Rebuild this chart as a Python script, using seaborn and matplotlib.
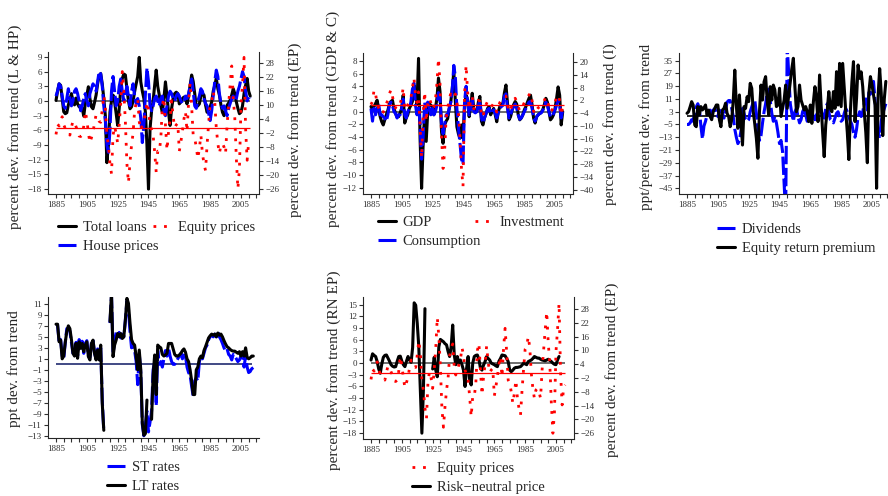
import numpy as np
import pandas as pd
import matplotlib
matplotlib.use("Agg")
import matplotlib.pyplot as plt
import seaborn as sns
from matplotlib.lines import Line2D

nan = float("nan")
START = 1885  # every series below is annual, starting in 1885

# ---- top-left panel: credit, house and equity prices -------------------
total_loans = [
    0.1, 2.0, 3.5, 3.2, 0.5,
    -2.2, -2.6, -2.4, -0.8, 0.2, 1.5, 0.0, -0.8, 0.6, -0.6,
    -1.2, -1.0, -1.5, -3.1, -0.5, 1.2, 2.9, 0.5, -1.2, -1.6,
    -0.3, 1.2, 3.5, 5.2, 5.6, 3.5, 0.5, -3.0, -12.6, -9.0,
    -2.3, 0.0, 1.2, -0.2, -2.5, -5.0, -1.5, 2.5, 4.6, 5.5,
    5.3, 2.5, 0.0, -1.6, -1.2, 0.0, 1.9, 3.5, 5.0, 8.9,
    3.9, 2.0, 0.5, -2.3, -9.0, -18.0, -5.7, -2.0, 0.0, 3.2,
    6.3, 3.0, 1.2, -1.0, -2.3, 0.5, 3.9, 1.0, -2.3, -5.0,
    -1.5, 0.5, 1.5, 1.8, 1.5, -0.6, -0.2, 0.5, 0.8, 0.5,
    -0.6, 1.0, 3.2, 5.3, 4.0, 1.5, -1.2, -1.0, -0.6, 1.0,
    1.5, 1.2, -0.8, -2.3, -1.8, -1.2, -0.2, 2.0, 3.2, 4.6,
    2.5, 1.2, -0.8, -2.3, -3.0, -2.0, -0.9, -0.4, 0.2, 1.2,
    2.5, 1.5, -0.2, -1.5, -2.6, -2.3, -1.0, 1.5, 3.2, 4.6,
    2.0, 1.0]

house_prices = [
    1.0, 2.0, 3.5, 3.0, 1.0,
    -1.0, -1.5, 0.5, 2.5, 0.5, -1.0, 0.0, 2.0, 2.5, 1.5,
    0.0, -2.0, -1.0, 0.5, 1.5, 0.0, -1.0, 1.5, 2.5, 3.5,
    3.0, 2.0, 4.0, 6.0, 5.5, 3.0, -1.0, -4.0, -9.0, -10.5,
    -6.0, 2.0, 5.0, 2.0, -1.0, 0.0, 3.0, 4.5, 2.0, 0.0,
    1.5, 3.0, 1.0, -1.0, 2.0, 3.5, 1.0, -0.5, 0.5, -1.0,
    -3.5, -8.5, -5.0, 1.5, 6.7, 4.0, -1.0, -2.0, -1.0, 0.5,
    1.0, 0.0, -1.0, 0.5, 1.0, -2.0, -3.0, -1.0, 1.0, 2.0,
    1.5, 0.5, 0.0, 1.0, 1.5, 1.0, 0.0, -0.5, 0.0, 1.0,
    0.5, 1.5, 3.0, 4.5, 2.0, -1.0, -1.5, 0.0, 1.0, 2.5,
    2.0, 0.5, -0.5, -1.0, -2.5, -4.0, -2.0, 1.0, 4.0, 6.3,
    5.0, 1.5, -0.5, -1.5, -1.0, -2.0, -3.0, -1.5, -0.5, 0.5,
    1.0, 0.0, 0.5, 2.0, 3.0, 4.5, 6.0, 5.0, 2.0, 0.0,
    1.0, 0.5]

equity_prices = [
    -2.6, 1.8, 1.0, 3.5, 5.0,
    1.5, 0.0, -1.4, -2.5, -2.9, 0.5, 3.2, 2.5, 0.7, -1.0,
    -3.3, -3.5, -2.9, 1.0, 7.3, 3.7, -2.0, -6.2, -4.0, -1.7,
    2.5, 5.8, 4.5, 3.0, 2.6, 8.0, 14.2, 9.0, -2.9, -7.2,
    -15.2, -19.5, -3.0, 0.8, -2.1, -6.5, 1.6, 10.9, 24.4, 16.0,
    2.9, -15.2, -23.4, -14.5, -7.2, -2.1, 7.6, 10.9, 12.8, 2.9,
    -0.7, 1.5, 3.7, 5.8, 11.3, 8.0, 1.5, -0.5, -2.9, -10.1,
    -18.8, -9.8, -10.1, -4.3, 9.9, 13.1, 1.5, -9.4, -1.6, 4.0,
    11.9, 5.0, 0.3, 1.5, 2.2, -9.8, -5.8, -1.4, 4.0, 7.3,
    -1.4, 10.9, 19.6, 9.4, -2.9, -4.3, -8.0, -13.0, -8.7, -2.9,
    -10.8, -15.2, -18.1, -7.2, 2.0, 10.5, 11.6, 16.0, 11.3, 0.0,
    -6.5, -10.8, -7.2, -6.5, -8.0, -10.8, 1.5, 10.2, 18.9, 26.8,
    13.1, 4.4, -13.0, -26.0, -17.4, 9.4, 18.9, 30.5, 0.0, -13.7,
    -5.8, -5.0]

# ---- top-middle panel: output, consumption, investment -----------------
gdp = [
    0.8, 0.3, 0.8, 1.3, 1.8,
    0.5, -0.8, -1.6, -2.1, -1.3, -0.5, 0.2, 1.2, 1.6, 1.8,
    0.5, -0.3, -0.8, -0.8, -0.2, 0.5, 2.6, -1.8, -1.0, -0.5,
    0.5, 1.0, 1.6, 4.2, 2.9, 1.1, 8.4, -4.2, -12.1, -5.3,
    0.0, -4.7, 0.0, 1.3, 1.0, 0.8, -0.5, 0.5, 2.1, 5.3,
    3.2, -3.2, -5.0, -2.1, -1.5, -1.1, 0.5, 1.5, 3.7, 6.3,
    1.6, -2.4, -3.5, -4.2, -2.1, -4.2, 1.0, 2.6, 1.8, -0.8,
    1.0, 2.9, 0.5, 0.0, 0.0, 1.5, 2.4, -1.5, -2.1, -1.0,
    -0.3, 0.5, 0.8, -0.5, 0.0, 0.5, -0.5, -1.6, 0.0, 0.8,
    1.1, 1.3, 3.0, 4.2, 1.3, -1.3, -0.8, 0.2, 1.1, 1.6,
    1.2, -0.5, -1.3, -1.0, -0.5, 0.3, 0.8, 1.5, 2.1, 2.6,
    1.1, -1.0, -1.8, -0.8, -0.5, -0.3, -0.1, 0.3, 1.1, 2.1,
    1.5, 0.0, -1.3, -1.0, -0.5, 0.5, 2.1, 3.9, 2.6, -2.1,
    0.0]

consumption = [
    0.5, -1.5, 0.5, -0.5, 0.5,
    1.2, -0.5, -0.5, -0.8, -1.0, -1.5, -0.5, 1.0, 1.5, 1.0,
    0.0, -0.3, -1.0, -0.5, -0.5, 0.5, 2.0, -0.5, -1.0, 0.0,
    0.5, 1.5, 3.5, 4.5, 1.0, -0.5, 1.0, -2.0, -7.5, -4.0,
    1.5, -0.5, 1.5, 0.5, -0.5, 0.5, -0.5, 0.0, 1.0, 3.0,
    2.0, -2.0, -3.5, -2.0, -0.5, -0.5, 0.5, 1.5, 3.5, 7.3,
    5.5, 0.5, -2.5, -5.0, -7.5, -8.3, 1.5, 4.0, 1.5, -0.5,
    0.5, 2.0, 0.0, -0.2, 0.0, 1.0, 1.8, -1.0, -1.8, -1.0,
    -0.3, 0.3, 0.5, -0.3, -0.1, 0.3, -0.3, -1.0, -0.2, 0.5,
    0.8, 1.0, 2.5, 2.8, 0.5, -1.0, -0.5, 0.3, 0.8, 1.2,
    0.5, -0.5, -1.2, -1.0, -0.5, 0.0, 0.5, 1.0, 1.5, 1.6,
    0.5, -0.8, -1.5, -0.8, -0.5, -0.3, -0.2, 0.2, 0.8, 1.5,
    1.0, 0.0, -0.8, -0.8, -0.3, 0.3, 1.0, 1.8, 1.0, -1.0,
    0.3]

investment = [
    0.0, 1.5, 6.9, 5.0, 0.5,
    -1.5, -3.0, -4.5, -3.5, -2.0, 0.5, 2.0, 5.0, 7.0, 4.0,
    0.0, -1.5, -2.0, -1.5, 0.5, 3.0, 8.0, -2.0, -2.5, 0.0,
    1.0, 3.0, 8.0, 12.6, 5.0, 1.0, 6.0, -10.0, -25.0, -5.0,
    6.0, -8.0, 0.5, 3.0, 1.0, -2.0, -1.0, 2.0, 10.0, 21.7,
    10.0, -15.0, -30.0, -22.0, -6.0, -2.0, 3.0, 5.0, 4.0, 3.0,
    5.0, 1.0, -3.0, -15.0, -30.0, -38.5, 5.0, 18.6, 6.0, -2.0,
    2.0, 4.0, -2.0, -1.5, 0.0, 2.0, 1.5, -4.0, -6.0, -2.0,
    0.0, 1.5, 0.5, -1.0, -0.5, 0.5, -1.0, -3.5, -1.0, 1.0,
    2.0, 2.5, 4.0, 4.0, 0.0, -3.5, -2.5, 0.0, 2.0, 3.0,
    1.5, -1.0, -3.0, -2.0, -0.5, 1.0, 2.0, 3.5, 4.5, 5.5,
    2.0, -3.0, -4.5, -2.5, -1.5, -1.0, -0.5, 0.5, 2.0, 3.5,
    2.0, -1.0, -3.5, -2.5, -1.5, 1.0, 4.0, 4.5, 2.0, -5.0,
    -1.0]

# ---- top-right panel: dividends and equity return premium --------------
dividends = [
    -5, -5, -4, -2, -3,
    2, 6, 8, 5, -6, -14, -6, -3, 1, 3,
    4, 2, 4, 5, 3, 0, 4, 3, 2, -1,
    4, 9, 10, 10, 5, 0, -8, -13, -17, -15,
    -9, 5, 2, -2, -3, -2, 3, 6, 9, 10,
    2, -8, -15, -12, -4, 3, 8, 15, 17, 10,
    2, -3, 0, -4, -10, -17, -15, -22, -42, -62,
    45, 27, 8, 2, -3, 3, 5, 0, -4, -2,
    3, 5, 1, -3, 0, 2, 3, 0, -2, 1,
    3, 2, 4, 0, -1, 5, 8, 3, -2, -3,
    -4, -1, 2, 3, 0, -3, -2, 2, 5, 3,
    0, -3, -5, -10, -13, -8, 0, 3, 0, 3,
    8, 11, 4, 15, 14, 18, 22, 10, -5, -10,
    -12.6, -3, 2, 5, 8]

equity_premium = [
    2.0, 3.0, 6.0, 9.3, 7.2,
    -5.3, -6.4, 6.2, 1.0, 6.2, 4.1, 5.5, 7.2, 1.0, 4.0,
    0.0, -2.0, 3.0, 5.0, 7.2, 7.2, -2.0, -6.4, 4.1, 5.1,
    8.3, 2.0, 0.0, -6.4, -2.0, 10.0, 29.1, 7.2, -7.4, 13.5,
    -3.0, -17.9, 6.2, 5.1, 12.4, 9.3, 20.8, 17.7, 3.0, -5.0,
    -13.7, -26.2, 3.0, 19.7, 10.3, 21.8, 25.0, 10.3, 0.9, 18.7,
    10.3, 19.7, 16.6, 6.2, 7.2, 17.7, 0.0, 5.1, 10.3, 19.7,
    5.1, 13.5, 21.8, 30.0, 36.5, 18.7, 3.0, 6.2, 19.7, 10.3,
    7.2, 4.1, 6.2, 3.0, -3.2, 7.2, -4.3, 9.3, 18.7, 11.4,
    -3.2, 26.0, 7.2, -10.0, -25.2, -5.3, 4.1, 15.6, 5.1, 3.0,
    15.6, 5.1, 28.1, 7.2, 33.3, 6.2, 33.3, 17.7, 3.0, -10.0,
    -27.0, 3.0, 21.8, 34.4, -3.2, 11.4, 32.3, 23.9, 28.0, 18.7,
    3.0, -10.0, -29.0, 15.0, 25.0, 20.0, 13.5, 7.2, -45.0, 13.5,
    30.0, 15.0, -12.0, 11.0, 22.0]

# ---- bottom-left panel: interest rates ---------------------------------
st_rates = [
    7.0, 7.2, 4.0, 4.5, 1.5,
    1.0, 4.0, 6.5, 6.5, 6.0, 4.0, 2.0, 2.0, 4.0, 1.5,
    4.5, 3.0, 4.2, 2.0, 3.8, 4.3, 1.5, 1.2, 4.0, 4.5,
    2.0, 1.0, 2.8, 1.2, 3.0, -6.5, -12.2, nan, nan, nan,
    7.5, 12.5, 2.0, 4.0, 5.8, 5.2, 5.8, 4.8, 5.5, 5.0,
    8.0, 11.5, 10.0, 6.0, 3.0, 3.5, 2.5, 0.5, -3.7, 2.0,
    -1.5, -11.0, -13.0, -11.0, -8.5, -12.3, -10.5, -8.5, -1.0, 0.5,
    -7.5, 2.5, 0.0, 0.5, -0.5, 1.0, 2.5, 1.5, 3.0, 1.5,
    0.5, 0.0, 0.0, 0.5, 1.0, 1.5, 2.0, 1.0, 2.0, 1.5,
    -0.5, -1.5, -2.0, -4.0, -5.8, -3.0, -2.5, -3.0, 0.5, 1.5,
    1.0, 2.0, 3.0, 3.5, 4.5, 5.0, 5.3, 5.0, 5.5, 5.0,
    6.0, 5.0, 4.5, 3.8, 3.0, 2.5, 2.8, 1.8, 1.5, 0.8,
    1.8, 1.5, 1.0, 0.5, 0.8, 1.5, 1.8, -0.5, 1.5, -0.5,
    -1.5, -1.3, -0.8, -0.6]

lt_rates = [
    7.3, 7.3, 4.1, 4.4, 1.0,
    1.5, 4.0, 6.0, 7.0, 6.5, 4.5, 2.0, 1.5, 3.8, 1.1,
    4.1, 2.9, 3.8, 2.3, 3.5, 4.1, 1.4, 0.8, 3.8, 4.4,
    2.0, 0.8, 2.6, 0.8, 3.5, -7.1, -12.0, nan, nan, nan,
    7.8, 13.0, 1.4, 3.5, 4.4, 5.6, 5.0, 5.6, 4.7, 5.0,
    8.1, 12.0, 11.1, 7.5, 4.5, 3.8, 3.5, 1.4, -1.0, 2.6,
    -1.0, -10.7, -12.9, -12.6, -6.5, nan, nan, -10.0, -2.0, 1.7,
    -5.5, 3.5, 3.2, 3.0, 1.8, 1.5, 1.7, 2.0, 3.8, 3.8,
    3.8, 2.8, 1.8, 1.5, 1.5, 1.7, 2.0, 2.5, 2.8, 2.2,
    1.0, 0.5, -1.0, -3.0, -5.5, -5.5, -1.0, -0.5, 1.0, 1.5,
    1.2, 2.5, 3.2, 4.0, 4.8, 5.2, 5.5, 5.3, 5.5, 5.0,
    5.7, 5.3, 5.5, 5.0, 4.3, 3.7, 3.2, 3.0, 2.7, 2.5,
    2.4, 2.4, 2.2, 2.0, 2.3, 1.5, 2.3, 1.5, 3.0, 1.3,
    1.0, 1.2, 1.5, 1.5]

# ---- bottom-middle panel: risk-neutral equity price --------------------
risk_neutral = [
    0.8, 2.4, 2.0, 1.7, 0.4,
    -1.5, -2.6, -0.2, 1.5, 2.0, 2.1, 1.3, 0.5, -0.4, -0.8,
    -1.0, -0.9, 0.5, 1.7, 1.8, 0.5, -0.4, -0.9, 0.5, 1.7,
    0.8, 0.2, 4.0, 15.5, 14.9, 10.2, 4.2, -6.9, -18.0, -6.9,
    14.0, nan, nan, nan, nan, -1.5, 1.5, -1.8, -3.5, 4.2,
    6.1, 5.8, 5.5, 5.0, 4.7, 3.0, 1.7, 4.2, 9.8, 2.1,
    -0.4, 1.7, 0.0, 0.8, -0.4, -1.8, -6.0, -1.4, 1.7, -4.3,
    -5.6, 0.0, 1.7, 2.0, 2.1, 1.0, -1.3, -1.8, -0.5, 0.4,
    1.7, 1.2, 0.8, 0.0, -0.2, -0.4, -0.7, -0.9, 0.5, 1.2,
    2.1, 2.0, 1.9, 1.2, 0.4, -1.8, -2.2, -1.8, -1.3, -1.1,
    -1.1, -1.0, -0.9, -0.5, 0.0, -0.2, -0.4, 0.4, 0.6, 0.8,
    1.2, 1.7, 1.5, 1.3, 1.3, 1.0, 0.8, 0.7, 0.6, 0.8,
    1.0, 0.7, 0.4, 0.0, -0.3, -0.4, 0.8, 1.7]

# ---- axis ticks -------------------------------------------------------
X_TICKS = list(range(1885, 2016, 5))
X_LABELS = [str(y) if (y - 1885) % 20 == 0 else "" for y in X_TICKS]
XLIM = (1879.8, 2016.7)
P1_LEFT = [-18, -15, -12, -9, -6, -3, 0, 3, 6, 9]
P1_RIGHT = [-26, -20, -14, -8, -2, 4, 10, 16, 22, 28]
P2_LEFT = [-12, -10, -8, -6, -4, -2, 0, 2, 4, 6, 8]
P2_RIGHT = [-40, -34, -28, -22, -16, -10, -4, 2, 8, 14, 20]
P3_TICKS = [-45, -37, -29, -21, -13, -5, 3, 11, 19, 27, 35]
P4_TICKS = [-13, -11, -9, -7, -5, -3, -1, 1, 3, 5, 7, 9, 11]
P5_LEFT = [-18, -15, -12, -9, -6, -3, 0, 3, 6, 9, 12, 15]
P5_RIGHT = [-26, -20, -14, -8, -2, 4, 10, 16, 22, 28]

# ---- styling ------------------------------------------------------------
sns.set_style("ticks")
plt.rcParams["font.family"] = ["Liberation Serif", "DejaVu Serif"]
plt.rcParams["axes.unicode_minus"] = True

BLACK = dict(color="black", linewidth=2.2, linestyle="-")
BLUE = dict(color="#0000ff", linewidth=2.2, linestyle=(0, (6.0, 1.2)))
RED = dict(color="#ff0000", linewidth=2.0, linestyle=(0, (1.0, 2.8)))
TICK_COLOR = "#303030"

W, H = 888, 496
fig = plt.figure(figsize=(W / 100, H / 100), dpi=100)


def axes_px(left, top, right, bottom):
    return fig.add_axes([left / W, 1 - bottom / H, (right - left) / W, (bottom - top) / H])


def draw(ax, values, style):
    v = np.asarray(values, dtype=float)
    years = np.arange(START, START + len(v))
    df = pd.DataFrame({"year": years, "value": v, "piece": np.cumsum(np.isnan(v))}).dropna()
    sns.lineplot(data=df, x="year", y="value", units="piece", estimator=None,
                 ax=ax, legend=False, **style)


def finish(ax, yticks, ylim, side="left"):
    ax.set_xlim(XLIM)
    ax.set_ylim(ylim)
    ax.set_yticks(yticks)
    ax.set_xlabel("")
    ax.set_ylabel("")
    for s in ("top", "right", "left", "bottom"):
        ax.spines[s].set_visible(False)
    ax.spines[side].set_visible(True)
    ax.spines[side].set_linewidth(0.8)
    ax.tick_params(axis="y", direction="out", length=3, width=0.8, pad=1.5,
                   labelsize=6.5, colors=TICK_COLOR)
    if side == "left":
        ax.spines["bottom"].set_visible(True)
        ax.spines["bottom"].set_linewidth(0.8)
        ax.set_xticks(X_TICKS)
        ax.set_xticklabels(X_LABELS)
        ax.tick_params(axis="x", direction="out", length=3, width=0.8, pad=2,
                       labelsize=6.5, colors=TICK_COLOR)


def ylabel(ax, text, cx, cy):
    ax.set_ylabel(text, fontsize=11, rotation=90, va="center", ha="center")
    ax.yaxis.set_label_coords(cx / W, 1 - cy / H, transform=fig.transFigure)


def legend_block(entries, x, y):
    handles = [Line2D([], [], **st) for st, _ in entries]
    fig.legend(handles, [t for _, t in entries], loc="upper left",
               bbox_to_anchor=(x / W, 1 - y / H), bbox_transform=fig.transFigure,
               frameon=False, borderpad=0, borderaxespad=0, handlelength=1.2,
               handletextpad=0.5, labelspacing=0.38, fontsize=10.5)


# ---- panel 1: loans, house prices (left), equity prices (right) ---------
ax1 = axes_px(48, 52, 259, 194)
ax1.hlines(0, 1885, 2011, colors="#555555", linewidth=1.2, zorder=1.5)
draw(ax1, total_loans, BLACK)
draw(ax1, house_prices, BLUE)
finish(ax1, P1_LEFT, (-19.0, 10.0))
ax1r = ax1.twinx()
ax1r.hlines(0, 1885, 2011, colors="#ff0000", linewidth=0.9)
draw(ax1r, equity_prices, RED)
finish(ax1r, P1_RIGHT, (-28.2, 32.8), side="right")
ylabel(ax1, "percent dev. from trend (L & HP)", 15, 127)
ylabel(ax1r, "percent dev. from trend (EP)", 295, 130)
legend_block([(BLACK, "Total loans"), (BLUE, "House prices")], 58, 221)
legend_block([(RED, "Equity prices")], 153, 221)

# ---- panel 2: GDP, consumption (left), investment (right) ---------------
ax2 = axes_px(363, 52.7, 573, 194)
ax2.hlines(0, 1885, 2011, colors="#555555", linewidth=1.2, zorder=1.5)
draw(ax2, gdp, BLACK)
draw(ax2, consumption, BLUE)
finish(ax2, P2_LEFT, (-13.0, 9.3))
ax2r = ax2.twinx()
ax2r.hlines(0, 1885, 2011, colors="#ff0000", linewidth=0.9)
draw(ax2r, investment, RED)
finish(ax2r, P2_RIGHT, (-42.0, 24.4), side="right")
ylabel(ax2, "percent dev. from trend (GDP & C)", 333, 119)
ylabel(ax2r, "percent dev. from trend (I)", 610, 124)
legend_block([(BLACK, "GDP"), (BLUE, "Consumption")], 378, 216)
legend_block([(RED, "Investment")], 475, 216)

# ---- panel 3: dividends and equity return premium -----------------------
ax3 = axes_px(679, 52.7, 890, 194)
ax3.hlines(0, 1885, 2015, colors="black", linewidth=1.2, zorder=1.5)
draw(ax3, dividends, BLUE)
draw(ax3, equity_premium, BLACK)
finish(ax3, P3_TICKS, (-48.6, 40.0))
ylabel(ax3, "ppt/percent dev. from trend", 646, 127)
legend_block([(BLUE, "Dividends"), (BLACK, "Equity return premium")], 717, 223)

# ---- panel 4: short- and long-term rates --------------------------------
ax4 = axes_px(48, 296.7, 259, 438)
ax4.hlines(0, 1885, 2012, colors="#202a70", linewidth=1.2, zorder=1.5)
draw(ax4, st_rates, BLUE)
draw(ax4, lt_rates, BLACK)
finish(ax4, P4_TICKS, (-13.4, 12.3))
ylabel(ax4, "ppt dev. from trend", 14, 369)
legend_block([(BLUE, "ST rates"), (BLACK, "LT rates")], 107, 461)

# ---- panel 5: risk-neutral price (left), equity prices (right) ----------
ax5 = axes_px(363, 297, 574, 439)
ax5.hlines(0, 1885, 2011, colors="#555555", linewidth=1.2, zorder=1.5)
draw(ax5, risk_neutral, BLACK)
finish(ax5, P5_LEFT, (-19.5, 17.0))
ax5r = ax5.twinx()
ax5r.hlines(0, 1885, 2011, colors="#ff0000", linewidth=0.9)
draw(ax5r, equity_prices, RED)
finish(ax5r, P5_RIGHT, (-28.5, 33.2), side="right")
ylabel(ax5, "percent dev. from trend (RN EP)", 334, 370)
ylabel(ax5r, "percent dev. from trend (EP)", 612, 370)
legend_block([(RED, "Equity prices"), (BLACK, "Risk\u2212neutral price")], 412, 462)

fig.savefig("out.png", dpi=100)
